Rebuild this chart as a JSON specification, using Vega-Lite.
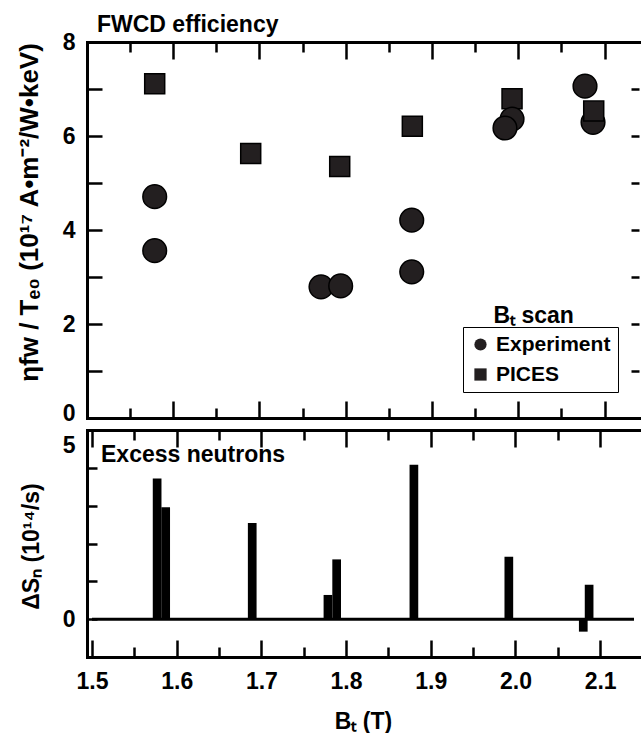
{
  "$schema": "https://vega.github.io/schema/vega-lite/v6.json",
  "padding": {"left": 16, "top": 14, "right": 0, "bottom": 0},
  "background": "white",
  "bounds": "flush",
  "spacing": 12,
  "datasets": {
    "efficiency": [
      {"series": "PICES", "BT": 1.5785, "eta": 7.11},
      {"series": "PICES", "BT": 1.6898, "eta": 5.63},
      {"series": "PICES", "BT": 1.7930, "eta": 5.35},
      {"series": "PICES", "BT": 1.8772, "eta": 6.21},
      {"series": "PICES", "BT": 1.9928, "eta": 6.79},
      {"series": "Experiment", "BT": 1.5785, "eta": 4.71},
      {"series": "Experiment", "BT": 1.5785, "eta": 3.56},
      {"series": "Experiment", "BT": 1.7713, "eta": 2.79},
      {"series": "Experiment", "BT": 1.7941, "eta": 2.81},
      {"series": "Experiment", "BT": 1.8765, "eta": 4.21},
      {"series": "Experiment", "BT": 1.8765, "eta": 3.11},
      {"series": "Experiment", "BT": 1.9928, "eta": 6.36},
      {"series": "Experiment", "BT": 1.9846, "eta": 6.17},
      {"series": "Experiment", "BT": 2.0774, "eta": 7.06},
      {"series": "Experiment", "BT": 2.0867, "eta": 6.29},
      {"series": "PICES", "BT": 2.0875, "eta": 6.53}
    ],
    "neutrons": [
      {"BT": 1.5769, "dSn": 3.72},
      {"BT": 1.5870, "dSn": 2.96},
      {"BT": 1.6892, "dSn": 2.54},
      {"BT": 1.7786, "dSn": 0.64},
      {"BT": 1.7889, "dSn": 1.58},
      {"BT": 1.8801, "dSn": 4.08},
      {"BT": 1.9922, "dSn": 1.65},
      {"BT": 2.0801, "dSn": -0.33},
      {"BT": 2.0870, "dSn": 0.91}
    ]
  },
  "config": {
    "view": {"stroke": null},
    "font": "Liberation Sans",
    "axis": {
      "grid": false,
      "minExtent": 0,
      "domainColor": "black",
      "domainWidth": 3,
      "domainCap": "square",
      "tickColor": "black",
      "tickWidth": 2.5,
      "labelFont": "Liberation Sans",
      "labelFontWeight": "bold",
      "labelFontSize": 23,
      "labelColor": "black",
      "labelOverlap": false,
      "titleFont": "Liberation Sans",
      "titleFontWeight": "bold",
      "titleFontSize": 23,
      "titleColor": "black"
    },
    "title": {"font": "Liberation Sans", "fontWeight": "bold", "fontSize": 23, "color": "black"}
  },
  "vconcat": [
    {
      "width": 552,
      "height": 376,
      "title": {"text": "FWCD efficiency", "anchor": "start", "frame": "group", "dx": 10, "offset": -24, "baseline": "alphabetic"},
      "layer": [
        {
          "data": {"name": "efficiency"},
          "mark": {"type": "point", "filled": true, "fill": "#231f20", "stroke": "black", "strokeWidth": 1.5, "opacity": 1},
          "encoding": {
            "x": {
              "field": "BT", "type": "quantitative",
              "scale": {"domain": [1.5, 2.14], "nice": false, "zero": false},
              "axis": {
                "orient": "bottom", "title": null, "labels": false,
                "values": [1.5, 1.55, 1.6, 1.65, 1.7, 1.75, 1.8, 1.85, 1.9, 1.95, 2.0, 2.05, 2.1],
                "tickSize": {"condition": {"test": "abs(datum.value * 10 - round(datum.value * 10)) < 0.001", "value": -17}, "value": -10}
              }
            },
            "y": {
              "field": "eta", "type": "quantitative",
              "scale": {"domain": [0, 8], "nice": false},
              "axis": {
                "orient": "left",
                "format": "d",
                "values": [0, 0.5, 1, 1.5, 2, 2.5, 3, 3.5, 4, 4.5, 5, 5.5, 6, 6.5, 7, 7.5, 8],
                "tickSize": {"condition": {"test": "datum.value % 1 === 0", "value": -15}, "value": -9},
                "labelExpr": "datum.value % 2 === 0 ? datum.label : ''",
                "labelPadding": 27,
                "labelOffset": {"condition": {"test": "datum.value === 0", "value": -5}, "value": 0},
                "title": "ηfw / Tₑ₀ (10¹⁷ A•m⁻²/W•keV)",
                "titleFontSize": 26,
                "titleAngle": -90,
                "titleX": -50,
                "titleY": 170,
                "titleAlign": "center",
                "titleBaseline": "alphabetic"
              }
            },
            "shape": {
              "field": "series", "type": "nominal",
              "scale": {"domain": ["Experiment", "PICES"], "range": ["circle", "square"]},
              "legend": {
                "title": null,
                "orient": "none",
                "legendX": 376,
                "legendY": 285,
                "direction": "vertical",
                "strokeColor": "black",
                "fillColor": "white",
                "padding": 7,
                "symbolSize": 150,
                "symbolFillColor": "#231f20",
                "symbolStrokeColor": "black",
                "symbolStrokeWidth": 1,
                "labelFont": "Liberation Sans",
                "labelFontWeight": "bold",
                "labelFontSize": 21,
                "labelColor": "black",
                "labelOffset": 5,
                "rowPadding": 8
              }
            },
            "size": {"condition": {"test": "datum.series === 'PICES'", "value": 400}, "value": 560}
          }
        },
        {
          "data": {"values": [{}]},
          "mark": {"type": "text", "text": "Bₜ scan", "align": "left", "baseline": "alphabetic", "fontSize": 23, "fontWeight": "bold", "font": "Liberation Sans", "color": "black"},
          "encoding": {
            "x": {
              "datum": 1.9713, "type": "quantitative",
              "axis": {
                "orient": "top", "title": null, "labels": false,
                "values": [1.5, 1.55, 1.6, 1.65, 1.7, 1.75, 1.8, 1.85, 1.9, 1.95, 2.0, 2.05, 2.1],
                "tickSize": {"condition": {"test": "abs(datum.value * 10 - round(datum.value * 10)) < 0.001", "value": -17}, "value": -10}
              }
            },
            "y": {
              "datum": 2.02, "type": "quantitative",
              "axis": {
                "orient": "right", "title": null, "labels": false, "domain": false,
                "values": [1, 2, 3, 4, 5, 6, 7],
                "tickSize": -8
              }
            }
          }
        }
      ],
      "resolve": {"axis": {"x": "independent", "y": "independent"}}
    },
    {
      "width": 552,
      "height": 227,
      "title": {"text": "Excess neutrons", "anchor": "start", "frame": "group", "dx": 14, "offset": -56, "baseline": "alphabetic"},
      "layer": [
        {
          "data": {"name": "neutrons"},
          "mark": {"type": "bar", "color": "black", "width": 8.7},
          "encoding": {
            "x": {
              "field": "BT", "type": "quantitative",
              "scale": {"domain": [1.5, 2.14], "nice": false, "zero": false},
              "axis": {
                "orient": "bottom",
                "values": [1.5, 1.55, 1.6, 1.65, 1.7, 1.75, 1.8, 1.85, 1.9, 1.95, 2.0, 2.05, 2.1],
                "tickSize": {"condition": {"test": "abs(datum.value * 10 - round(datum.value * 10)) < 0.001", "value": -17}, "value": -10},
                "labelExpr": "abs(datum.value * 10 - round(datum.value * 10)) < 0.001 ? format(datum.value, '.1f') : ''",
                "labelPadding": 30,
                "title": "Bₜ (T)",
                "titlePadding": 10
              }
            },
            "y": {
              "field": "dSn", "type": "quantitative",
              "scale": {"domain": [-1, 5], "nice": false},
              "axis": {
                "orient": "left",
                "values": [0, 1, 2, 3, 4, 5],
                "tickSize": -10,
                "labelExpr": "datum.value === 0 || datum.value === 5 ? datum.label : ''",
                "labelPadding": 22,
                "labelBaseline": {"condition": {"test": "datum.value === 5", "value": "top"}, "value": "middle"},
                "labelOffset": {"condition": {"test": "datum.value === 5", "value": 4}, "value": 0},
                "title": "ΔSₙ (10¹⁴/s)",
                "titleAngle": -90,
                "titleX": -49,
                "titleY": 116,
                "titleAlign": "center",
                "titleBaseline": "alphabetic"
              }
            }
          }
        },
        {
          "data": {"values": [{}]},
          "mark": {"type": "rule", "color": "black", "strokeWidth": 3},
          "encoding": {
            "x": {
              "datum": 1.5, "type": "quantitative",
              "axis": {
                "orient": "top", "title": null, "labels": false,
                "values": [1.5, 1.55, 1.6, 1.65, 1.7, 1.75, 1.8, 1.85, 1.9, 1.95, 2.0, 2.05, 2.1],
                "tickSize": {"condition": {"test": "abs(datum.value * 10 - round(datum.value * 10)) < 0.001", "value": -17}, "value": -10}
              }
            },
            "x2": {"datum": 2.14},
            "y": {"datum": 0, "type": "quantitative"}
          }
        }
      ],
      "resolve": {"axis": {"x": "independent"}}
    }
  ]
}
